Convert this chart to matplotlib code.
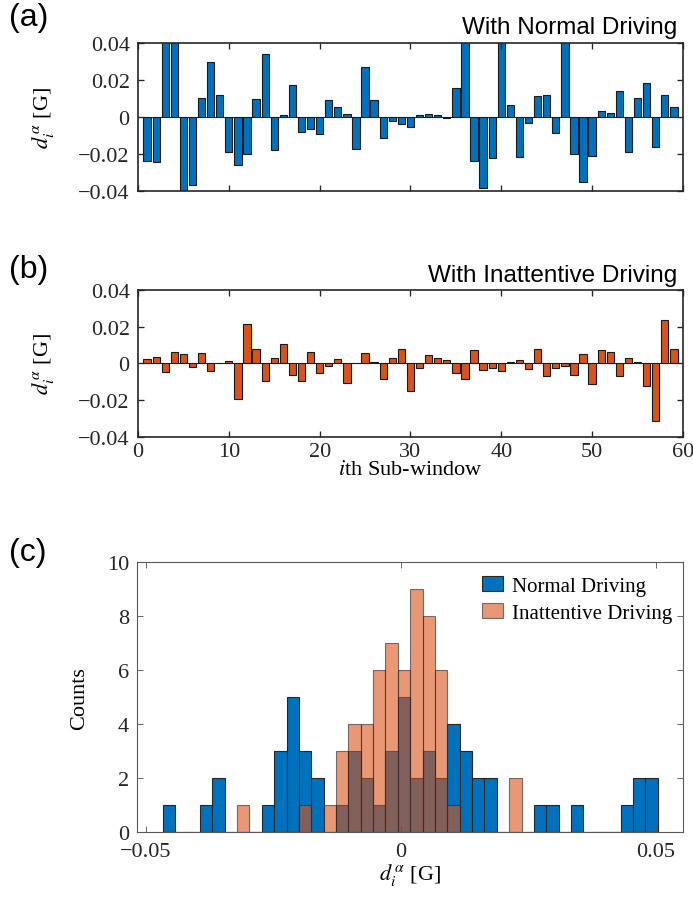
import numpy as np
import matplotlib
matplotlib.use("Agg")
import matplotlib.pyplot as plt

plt.rcParams["font.family"] = ["Liberation Serif", "DejaVu Serif"]
plt.rcParams["mathtext.fontset"] = "stix"

BLUE = "#0072BD"
ORANGE = "#D95319"

# sub-window index 1..59
windows = list(range(1, 60))

# (a) normal driving, d_i^alpha [G]  (bars beyond +-0.04 are clipped by the axes)
normal = [-0.0238, -0.0247, 0.047, 0.049, -0.045, -0.0368, 0.0103, 0.0299, 0.0115, -0.0193,
          -0.0263, -0.0204, 0.0094, 0.0342, -0.0182, 0.0007, 0.0171, -0.0085, -0.0065, -0.0094,
          0.0090, 0.0054, 0.0013, -0.0173, 0.0267, 0.0090, -0.0117, -0.0022, -0.0040, -0.0058,
          0.0011, 0.0016, 0.0011, -0.0009, 0.0157, 0.044, -0.0238, -0.0387, -0.0223, 0.046,
          0.0061, -0.0216, -0.0032, 0.0112, 0.0117, -0.0088, 0.050, -0.0204, -0.0351, -0.0211,
          0.0032, 0.0018, 0.0142, -0.0193, 0.0101, 0.0182, -0.0166, 0.0115, 0.0054]

# (b) inattentive driving
inattentive = [0.0022, 0.0033, -0.0045, 0.0064, 0.0049, -0.0020, 0.0055, -0.0044, 0.0004, 0.0011,
               -0.0195, 0.0216, 0.0078, -0.0095, 0.0027, 0.0104, -0.0064, -0.0095, 0.0064, -0.0053,
               -0.0016, 0.0024, -0.0107, 0.0004, 0.0055, 0.0007, -0.0085, 0.0027, 0.0076, -0.0149,
               -0.0024, 0.0045, 0.0031, 0.0018, -0.0051, -0.0085, 0.0071, -0.0036, -0.0027, -0.0044,
               0.0009, 0.0018, -0.0029, 0.0080, -0.0071, -0.0025, -0.0016, -0.0064, 0.0053, -0.0115,
               0.0075, 0.0060, -0.0069, 0.0031, 0.0007, -0.0124, -0.0315, 0.0235, 0.0076]

# (c) histogram: 40 bins, first left edge and common width
bin_start = -0.04669
bin_width = 0.002427
counts_normal = [1, 0, 0, 1, 2, 0, 0, 0, 1, 3, 5, 3, 2, 0, 1, 3, 2, 1, 3, 5,
                 2, 3, 2, 4, 3, 2, 2, 0, 0, 0, 1, 1, 0, 1, 0, 0, 0, 1, 2, 2]
counts_inatt = [0, 0, 0, 0, 0, 0, 1, 0, 0, 0, 0, 1, 0, 1, 3, 4, 4, 6, 7, 6,
                9, 8, 6, 1, 0, 0, 0, 0, 2, 0, 0, 0, 0, 0, 0, 0, 0, 0, 0, 0]

edges = bin_start + bin_width * np.arange(len(counts_normal) + 1)
centers = 0.5 * (edges[:-1] + edges[1:])

fig = plt.figure(figsize=(6.93, 9.04), dpi=100)
ax_a = fig.add_axes([0.1991, 0.7880, 0.7864, 0.1635])
ax_b = fig.add_axes([0.1991, 0.5158, 0.7864, 0.1623])
ax_c = fig.add_axes([0.1981, 0.0782, 0.7870, 0.2990])

yt = [-0.04, -0.02, 0, 0.02, 0.04]
ytl = ["\u22120.04", "\u22120.02", "0", "0.02", "0.04"]
ylab = r"$d_i^{\,\alpha}$ [G]"
FS = 16


def style_axes(ax, color, lw, xpad=4):
    for s in ax.spines.values():
        s.set_color(color)
        s.set_linewidth(lw)
    ax.tick_params(direction="in", length=4, width=lw * 0.8, color=color,
                   top=True, right=True, labelsize=FS, labelcolor="#262626")
    ax.tick_params(axis="y", pad=6)
    ax.tick_params(axis="x", pad=xpad)


for ax, vals, col, title in [(ax_a, normal, BLUE, "With Normal Driving"),
                             (ax_b, inattentive, ORANGE, "With Inattentive Driving")]:
    ax.bar(windows, vals, width=0.8, color=col, edgecolor="#1a1a1a", linewidth=0.8)
    ax.axhline(0, color="#1a1a1a", lw=0.7, zorder=0.5)
    ax.set_xlim(0, 60)
    ax.set_ylim(-0.04, 0.04)
    ax.set_yticks(yt, ytl)
    ax.set_xticks(range(0, 61, 10))
    ax.set_ylabel(ylab, fontsize=FS)
    ax.yaxis.set_label_coords(-0.15, 0.5)
    style_axes(ax, "#262626", 1.2)
    ax.text(0.99, 1.03, title, transform=ax.transAxes, ha="right", va="bottom",
            fontsize=17.5, family=["Liberation Sans", "DejaVu Sans"])

ax_a.tick_params(labelbottom=False)
ax_b.set_xlabel(r"$i$th Sub-window", fontsize=FS)
ax_b.xaxis.set_label_coords(0.5, -0.16)

# histogram
ax_c.bar(centers, counts_normal, width=bin_width, color=BLUE, edgecolor="#262626",
         linewidth=0.8, label="Normal Driving")
ax_c.bar(centers, counts_inatt, width=bin_width, color=ORANGE, alpha=0.6, edgecolor="#262626",
         linewidth=0.8, label="Inattentive Driving")
ax_c.set_xlim(-0.0517, 0.0553)
ax_c.set_ylim(0, 10)
ax_c.set_xticks([-0.05, 0, 0.05], ["\u22120.05", "0", "0.05"])
ax_c.set_yticks(range(0, 11, 2))
style_axes(ax_c, "#5a5a5a", 0.8, xpad=7)
ax_c.set_ylabel("Counts", fontsize=FS)
ax_c.yaxis.set_label_coords(-0.088, 0.5)
ax_c.set_xlabel(ylab, fontsize=FS)
ax_c.xaxis.set_label_coords(0.5, -0.105)
ax_c.legend(loc="upper right", bbox_to_anchor=(1.0, 0.985), frameon=False, fontsize=15,
            handlelength=1.0, handleheight=0.7, handletextpad=0.45, borderaxespad=0.1,
            labelspacing=0.35)

for lbl, y in [("(a)", 0.997), ("(b)", 0.718), ("(c)", 0.405)]:
    fig.text(0.013, y, lbl, ha="left", va="top", fontsize=23,
             family=["Liberation Sans", "DejaVu Sans"])

fig.savefig("out.png", dpi=100)
